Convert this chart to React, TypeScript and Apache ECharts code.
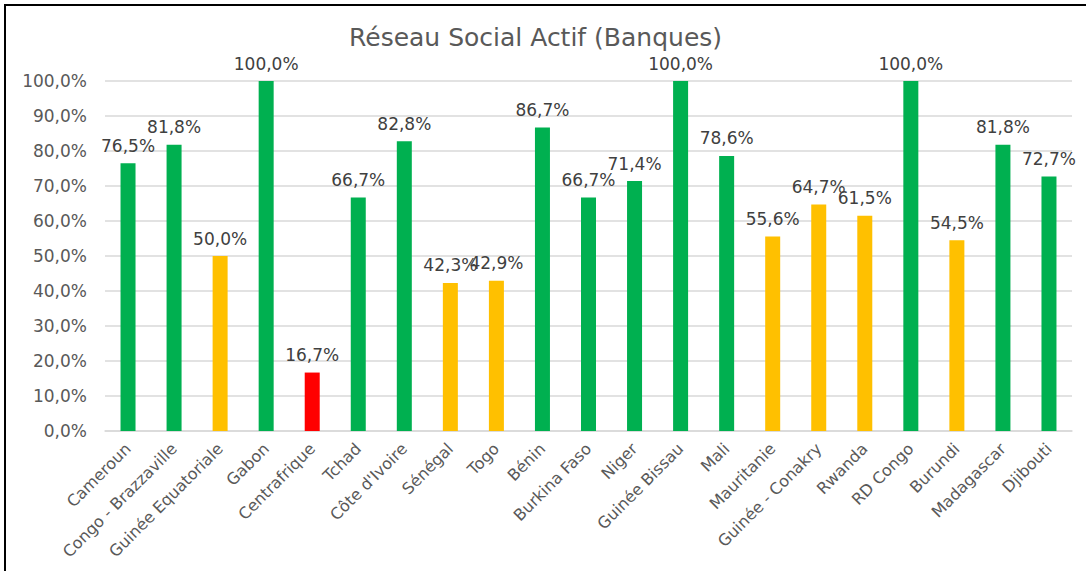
import React, { useEffect, useRef } from "react";
import * as echarts from "echarts";

const categories = [
  "Cameroun",
  "Congo - Brazzaville",
  "Guinée Equatoriale",
  "Gabon",
  "Centrafrique",
  "Tchad",
  "Côte d'Ivoire",
  "Sénégal",
  "Togo",
  "Bénin",
  "Burkina Faso",
  "Niger",
  "Guinée Bissau",
  "Mali",
  "Mauritanie",
  "Guinée - Conakry",
  "Rwanda",
  "RD Congo",
  "Burundi",
  "Madagascar",
  "Djibouti",
];

const values = [
  76.5, 81.8, 50.0, 100.0, 16.7, 66.7, 82.8, 42.3, 42.9, 86.7, 66.7, 71.4,
  100.0, 78.6, 55.6, 64.7, 61.5, 100.0, 54.5, 81.8, 72.7,
];

const GREEN = "#00B050";
const YELLOW = "#FFC000";
const RED = "#FF0000";

const barColors = [
  GREEN, GREEN, YELLOW, GREEN, RED, GREEN, GREEN, YELLOW, YELLOW, GREEN, GREEN,
  GREEN, GREEN, GREEN, YELLOW, YELLOW, YELLOW, GREEN, YELLOW, GREEN, GREEN,
];

const fmt = (v: number) => v.toFixed(1).replace(".", ",") + "%";

export default function App() {
  const ref = useRef<HTMLDivElement>(null);
  useEffect(() => {
    if (!ref.current) return;
    const chart = echarts.init(ref.current, null, { renderer: "svg" });
    const font = "DejaVu Sans";
    chart.setOption({
      animation: false,
      backgroundColor: "#ffffff",
      title: {
        text: "Réseau Social Actif (Banques)",
        left: 349,
        top: 24,
        padding: 0,
        textStyle: {
          fontFamily: font,
          fontSize: 25,
          fontWeight: "normal",
          color: "#595959",
          lineHeight: 27,
        },
      },
      graphic: [
        {
          type: "rect",
          shape: { x: 5, y: 5, width: 1200, height: 700 },
          style: { fill: "none", stroke: "#000000", lineWidth: 2 },
          silent: true,
        },
      ],
      grid: { left: 105, right: 14, top: 81, bottom: 140, containLabel: false },
      xAxis: {
        type: "category",
        data: categories,
        axisLine: { lineStyle: { color: "#d9d9d9", width: 1.5 } },
        axisTick: { show: false },
        axisLabel: {
          rotate: 45,
          interval: 0,
          fontFamily: font,
          fontSize: 16,
          color: "#595959",
          margin: 15,
        },
      },
      yAxis: {
        type: "value",
        min: 0,
        max: 100,
        interval: 10,
        axisLine: { show: false },
        axisTick: { show: false },
        splitLine: { lineStyle: { color: "#d9d9d9", width: 1.5 } },
        axisLabel: {
          formatter: (v: number) => fmt(v),
          fontFamily: font,
          fontSize: 17,
          color: "#595959",
          margin: 18,
        },
      },
      series: [
        {
          type: "bar",
          barWidth: 15,
          data: values.map((v, i) => ({
            value: v,
            itemStyle: { color: barColors[i] },
          })),
          label: {
            show: true,
            position: "top",
            distance: 9,
            formatter: (p: any) => fmt(p.value),
            fontFamily: font,
            fontSize: 17,
            color: "#404040",
          },
        },
      ],
    });
    return () => chart.dispose();
  }, []);
  return (
    <div
      ref={ref}
      style={{ position: "fixed", left: 0, top: 0, width: 1086, height: 571 }}
    />
  );
}
